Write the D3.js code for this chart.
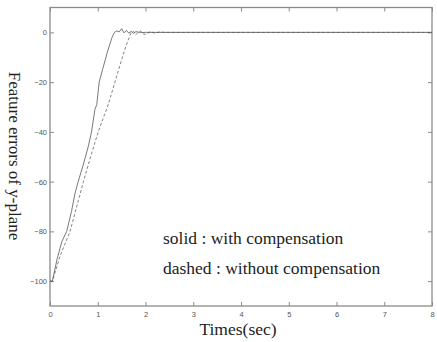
<!DOCTYPE html>
<html><head><meta charset="utf-8">
<script src="https://cdn.jsdelivr.net/npm/d3@7/dist/d3.min.js"></script>
<style>body{margin:0;background:#fff}svg{display:block}</style>
</head><body>
<svg id="c" width="437" height="342"></svg>
<script>
const xTicks = [0,1,2,3,4,5,6,7,8];
const yTicks = [0,-20,-40,-60,-80,-100];
const solidT = [0,0.05,0.15,0.25,0.35,0.45,0.52,0.59,0.7,0.8,0.87,0.94,0.98,1.03,1.1,1.2,1.3,1.35,1.4,1.45,1.5,1.55,1.6,1.65,1.7,1.75,1.8,1.9,2.0,8];
const solidV = [-100,-100,-91,-84,-80,-72,-65,-60,-53,-46,-40,-31,-29,-20,-15,-8,-2,0,0.6,0.2,1.5,-0.2,0.8,-0.3,0.4,-0.4,0.3,-0.1,0,0];
const dashT = [0,0.05,0.21,0.42,0.63,0.7,0.85,1.01,1.22,1.36,1.5,1.6,1.7,1.75,1.8,1.85,1.9,1.95,2.0,2.1,2.2,2.3,2.4,8];
const dashV = [-100,-100,-90,-80,-65,-60,-50,-40,-29,-20,-11,-5,0,0.4,-0.9,0.2,0.6,-0.6,-0.8,0.3,-0.3,0.2,0,0];
const yLabel = "Feature errors of y-plane";
const xLabel = "Times(sec)";
const legendTexts = ["solid : with compensation","dashed : without compensation"];

const svg = d3.select("#c");
const L=50,R=432,T=7.5,B=306;
const x = d3.scaleLinear().domain([0,8]).range([L,R]);
const y = d3.scaleLinear().domain([-110,10]).range([B,T]);
const axisCol="#8a8a8a";
const tickFont="Arial, 'Liberation Sans', sans-serif";

function styleAxis(g){
  g.select(".domain").remove();
  g.selectAll(".tick line").attr("stroke",axisCol).attr("stroke-width",1);
  g.selectAll(".tick text").attr("fill","#555").style("font-family",tickFont).style("font-size","7.5px");
}
svg.append("g").attr("transform",`translate(0,${B})`)
  .call(d3.axisBottom(x).tickValues(xTicks).tickSizeInner(-4).tickSizeOuter(0).tickPadding(6).tickFormat(d3.format("d")))
  .call(styleAxis);
svg.append("g").attr("transform",`translate(0,${T})`)
  .call(d3.axisTop(x).tickValues(xTicks).tickSizeInner(-4).tickSizeOuter(0).tickFormat(""))
  .call(styleAxis);
svg.append("g").attr("transform",`translate(${L},0)`)
  .call(d3.axisLeft(y).tickValues(yTicks).tickSizeInner(-4).tickSizeOuter(0).tickPadding(3).tickFormat(d3.format("d")))
  .call(styleAxis);
svg.append("g").attr("transform",`translate(${R},0)`)
  .call(d3.axisRight(y).tickValues(yTicks).tickSizeInner(-4).tickSizeOuter(0).tickFormat(""))
  .call(styleAxis);
svg.append("rect").attr("x",L).attr("y",T).attr("width",R-L).attr("height",B-T)
  .attr("fill","none").attr("stroke",axisCol).attr("stroke-width",1.3);

const line = d3.line().x(d=>x(d[0])).y(d=>y(d[1]));
svg.append("path").datum(dashT.map((t,i)=>[t,dashV[i]])).attr("d",line)
  .attr("fill","none").attr("stroke","#666").attr("stroke-width",0.8).attr("stroke-dasharray","3,2");
svg.append("path").datum(solidT.map((t,i)=>[t,solidV[i]])).attr("d",line)
  .attr("fill","none").attr("stroke","#555").attr("stroke-width",0.8);

const serif="'Liberation Serif','Times New Roman',serif";
svg.append("text").attr("transform",`translate(13,156) rotate(90)`).attr("text-anchor","middle")
  .attr("dominant-baseline","middle").style("font-family",serif).style("font-size","17px").attr("fill","#222").text(yLabel);
svg.append("text").attr("x",238).attr("y",335).attr("text-anchor","middle")
  .style("font-family",serif).style("font-size","17.5px").attr("fill","#222").text(xLabel);
legendTexts.forEach((t,i)=>{
  svg.append("text").attr("x",163).attr("y",244+i*30)
    .style("font-family",serif).style("font-size","17.5px").attr("fill","#222").text(t);
});
</script>
</body></html>
